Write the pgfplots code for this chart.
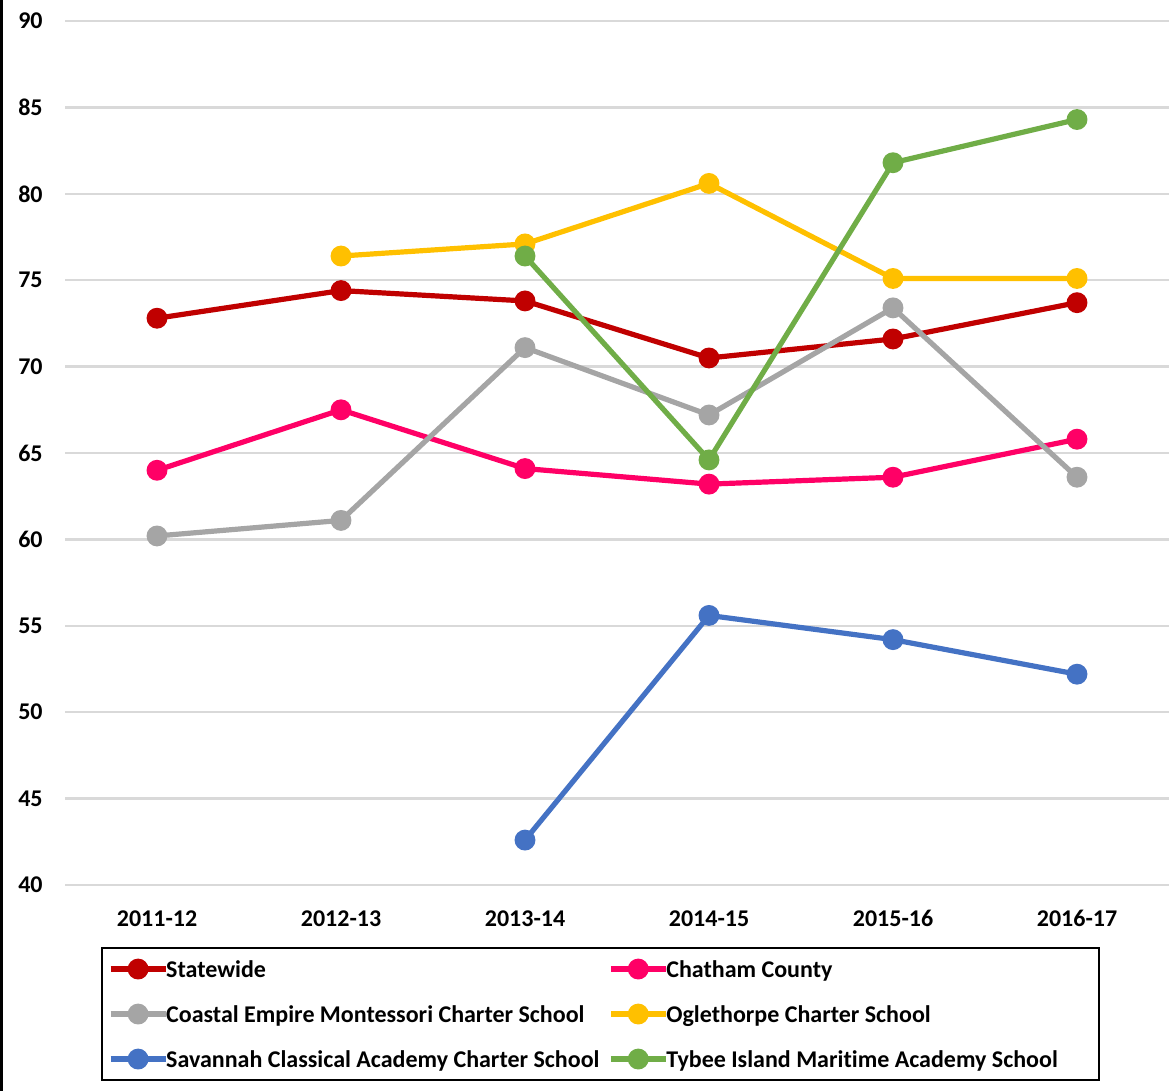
\documentclass[border=0pt]{standalone}
\usepackage{pgfplots}
\pgfplotsset{compat=1.18}
\usepackage{fontspec}
\setmainfont{Carlito}[Ligatures=NoCommon]
\definecolor{cState}{HTML}{C00000}
\definecolor{cChat}{HTML}{FF0066}
\definecolor{cCoast}{HTML}{A5A5A5}
\definecolor{cOgle}{HTML}{FFC000}
\definecolor{cSav}{HTML}{4472C4}
\definecolor{cTyb}{HTML}{70AD47}
\newcommand{\la}[1]{\makebox[222bp][l]{#1}}
\newcommand{\lb}[1]{\makebox[213.5bp][l]{#1}}
\begin{document}
\begin{tikzpicture}
\useasboundingbox (0bp,0bp) rectangle (586bp,-545.5bp);
\draw[line width=1.35bp] (0.675bp,0bp) -- (0.675bp,-545.5bp);
\begin{axis}[
  at={(32.5bp,-442.5bp)}, anchor=south west,
  scale only axis, width=552bp, height=432bp,
  xmin=-0.5, xmax=5.5, ymin=40, ymax=90,
  axis line style={draw=none},
  major tick length=0pt,
  xtick={0,1,2,3,4,5},
  xticklabels={2011-12,2012-13,2013-14,2014-15,2015-16,2016-17},
  ytick={40,45,...,90},
  ymajorgrids, grid style={draw=black!15, line width=1.2bp},
  tick label style={font=\fontsize{12bp}{14bp}\selectfont\bfseries, inner sep=0pt},
  /pgf/number format/assume math mode=true,
  yticklabel style={anchor=east, xshift=-11bp},
  xticklabel style={anchor=north, yshift=-12.5bp},
  every axis plot/.append style={line width=2.6bp, mark=*, mark size=3.9bp, mark options={solid}},
  legend columns=2,
  legend cell align=left,
  legend image code/.code={\draw[mark repeat=2,mark phase=2,#1] plot coordinates {(0bp,0bp) (13.75bp,0bp) (27.5bp,0bp)};},
  legend style={at={(0.0326,-0.0718)}, anchor=north west, draw=black, line width=1bp,
    inner xsep=3bp, inner ysep=6.5bp, row sep=14.5bp, column sep=-1bp,
    font=\fontsize{12bp}{14bp}\selectfont\bfseries,
    nodes={inner sep=0pt, text height=8bp, text depth=0bp, anchor=west}},
]
\addplot[color=cState, mark options={fill=cState}] coordinates {(0,72.8) (1,74.4) (2,73.8) (3,70.5) (4,71.6) (5,73.7)};
\addlegendentry{\la{Statewide}}
\addplot[color=cChat, mark options={fill=cChat}] coordinates {(0,64.0) (1,67.5) (2,64.1) (3,63.2) (4,63.6) (5,65.8)};
\addlegendentry{\lb{Chatham County}}
\addplot[color=cCoast, mark options={fill=cCoast}] coordinates {(0,60.2) (1,61.1) (2,71.1) (3,67.2) (4,73.4) (5,63.6)};
\addlegendentry{\la{Coastal Empire Montessori Charter School}}
\addplot[color=cOgle, mark options={fill=cOgle}] coordinates {(1,76.4) (2,77.1) (3,80.6) (4,75.1) (5,75.1)};
\addlegendentry{\lb{Oglethorpe Charter School}}
\addplot[color=cSav, mark options={fill=cSav}] coordinates {(2,42.6) (3,55.6) (4,54.2) (5,52.2)};
\addlegendentry{\la{Savannah Classical Academy Charter School}}
\addplot[color=cTyb, mark options={fill=cTyb}] coordinates {(2,76.4) (3,64.6) (4,81.8) (5,84.3)};
\addlegendentry{\lb{Tybee Island Maritime Academy School}}
\end{axis}
\end{tikzpicture}
\end{document}
